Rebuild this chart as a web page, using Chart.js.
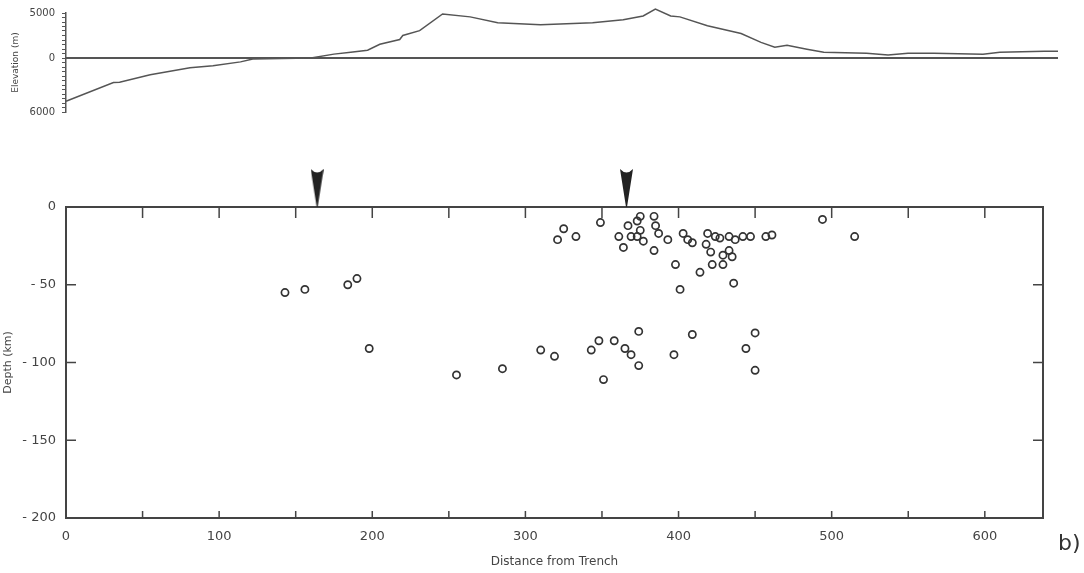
<!DOCTYPE html>
<html>
<head>
<meta charset="utf-8">
<script src="https://cdn.jsdelivr.net/npm/chart.js@4/dist/chart.umd.min.js"></script>
<style>
body { margin: 0; background: #fff; width: 1084px; height: 573px; overflow: hidden; position: relative; font-family: "DejaVu Sans", sans-serif; }
#top { position: absolute; left: 0; top: 0; }
#bot { position: absolute; left: 0; top: 125px; }
#lbl { position: absolute; left: 1058px; top: 530px; font-size: 22px; color: #333; }
</style>
</head>
<body>
<canvas id="top" width="1084" height="125"></canvas>
<canvas id="bot" width="1084" height="448"></canvas>
<div id="lbl">b)</div>
<script>
"use strict";
// elevation profile (km from trench, m)
const profileKm = [0, 31, 35, 55, 81, 96, 114, 122, 160, 175, 186, 197, 205, 218, 220, 231, 246, 264, 282, 310, 344, 364, 377, 385, 395, 401, 419, 441, 454, 463, 471, 484, 495, 523, 537, 550, 567, 599, 610, 639, 648];
const profileElev = [-4800, -2720, -2700, -1850, -1090, -870, -430, -100, 0, 430, 650, 870, 1520, 2060, 2500, 3040, 4890, 4570, 3910, 3700, 3910, 4240, 4670, 5430, 4670, 4570, 3590, 2720, 1740, 1200, 1410, 980, 650, 540, 330, 540, 540, 430, 650, 760, 760];
const seaLevelKm = [0, 648];
const seaLevelElev = [0, 0];
const elevLabels = { "5000": "5000", "0": "0", "-6000": "6000" };

// hypocenters (km from trench, depth km)
const quakeKm = [143, 156, 184, 190, 198,
    255, 285, 310, 319, 343, 348, 351, 358, 365, 369, 374, 374, 397, 409, 444, 450, 450,
    325, 321, 333, 349, 361, 364, 367, 369, 373, 373, 375, 375, 377, 384, 385, 384, 387, 393, 398, 401, 403,
    406, 409, 414, 419, 418, 421, 422, 424, 427, 429, 429, 433, 433, 435, 436, 437, 442, 447, 457, 461, 494, 515];
const quakeDepth = [-55, -53, -50, -46, -91,
    -108, -104, -92, -96, -92, -86, -111, -86, -91, -95, -80, -102, -95, -82, -91, -81, -105,
    -14, -21, -19, -10, -19, -26, -12, -19, -19, -9, -6, -15, -22, -6, -12, -28, -17, -21, -37, -53, -17,
    -21, -23, -42, -17, -24, -29, -37, -19, -20, -31, -37, -28, -19, -32, -49, -21, -19, -19, -19, -18, -8, -19];
const arrowKm = [164, 366];
const arrowDepth = [0, 0];

const ink = "#444";
const pts = (xs, ys) => xs.map((x, i) => ({ x: x, y: ys[i] }));

function arrowImage() {
    const c = document.createElement("canvas");
    c.width = 13; c.height = 76;
    const g = c.getContext("2d");
    g.fillStyle = "#222";
    g.beginPath();
    g.moveTo(0, 0);
    g.quadraticCurveTo(6.5, 7, 13, 0);
    g.lineTo(7, 38);
    g.lineTo(6, 38);
    g.closePath();
    g.fill();
    return c;
}

// frame + inward ticks for the depth section
const framePlugin = {
    id: "frame",
    beforeDatasetsDraw(chart) {
        const { ctx, chartArea: a, scales } = chart;
        ctx.save();
        ctx.strokeStyle = ink;
        ctx.lineWidth = 2;
        ctx.strokeRect(a.left, a.top, a.right - a.left, a.bottom - a.top);
        ctx.lineWidth = 1.5;
        ctx.beginPath();
        scales.x.ticks.forEach(t => {
            if (t.value <= 0 || t.value % 50) return;
            const px = scales.x.getPixelForValue(t.value);
            ctx.moveTo(px, a.top); ctx.lineTo(px, a.top + 11);
            ctx.moveTo(px, a.bottom); ctx.lineTo(px, a.bottom - 7);
        });
        scales.y.ticks.forEach(t => {
            if (t.value <= -200 || t.value >= 0) return;
            const py = scales.y.getPixelForValue(t.value);
            ctx.moveTo(a.left, py); ctx.lineTo(a.left + 10, py);
            ctx.moveTo(a.right, py); ctx.lineTo(a.right - 10, py);
        });
        ctx.stroke();
        ctx.restore();
    }
};

new Chart(document.getElementById("top"), {
    type: "line",
    data: {
        datasets: [{
            data: pts(profileKm, profileElev),
            borderColor: "#555",
            borderWidth: 1.5,
            pointRadius: 0,
            clip: false
        }, {
            data: pts(seaLevelKm, seaLevelElev),
            borderColor: "#555",
            borderWidth: 2,
            pointRadius: 0
        }]
    },
    options: {
        responsive: false,
        animation: false,
        layout: { padding: { top: 12, bottom: 13, left: 0, right: 26 } },
        plugins: { legend: { display: false }, tooltip: { enabled: false } },
        scales: {
            x: { type: "linear", min: 0, max: 648, display: false },
            y: {
                min: -6000, max: 5000,
                afterFit(s) { s.width = 66; },
                ticks: {
                    stepSize: 500, autoSkip: false, padding: 7,
                    color: ink, font: { size: 10, family: "DejaVu Sans" },
                    callback: v => elevLabels[String(v)] || ""
                },
                grid: { drawOnChartArea: false, tickLength: 4, color: "#555" },
                border: { color: "#555", width: 1.5 },
                title: {
                    display: true, text: "Elevation (m)", color: ink,
                    font: { size: 9, family: "DejaVu Sans" }, padding: { top: 10, bottom: 0 }
                }
            }
        }
    }
});

new Chart(document.getElementById("bot"), {
    type: "scatter",
    data: {
        datasets: [{
            data: pts(quakeKm, quakeDepth),
            pointStyle: "circle",
            pointRadius: 3.6,
            borderWidth: 1.7,
            borderColor: "#333",
            backgroundColor: "rgba(0,0,0,0)"
        }, {
            data: pts(arrowKm, arrowDepth),
            pointStyle: arrowImage(),
            clip: false
        }]
    },
    options: {
        responsive: false,
        animation: false,
        layout: { padding: { top: 82, bottom: 0, left: 0, right: 41 } },
        plugins: { legend: { display: false }, tooltip: { enabled: false } },
        scales: {
            x: {
                type: "linear", min: 0, max: 638,
                afterFit(s) { s.height = 55; },
                ticks: {
                    stepSize: 50, includeBounds: false, autoSkip: false, maxRotation: 0, padding: 11,
                    color: ink, font: { size: 13, family: "DejaVu Sans" },
                    callback: v => (v % 100 === 0 ? String(v) : "")
                },
                grid: { display: false, drawTicks: false, tickLength: 0 },
                border: { display: false },
                title: {
                    display: true, text: "Distance from Trench", color: ink,
                    font: { size: 12, family: "DejaVu Sans" }, padding: { top: 0, bottom: 4 }
                }
            },
            y: {
                min: -200, max: 0,
                afterFit(s) { s.width = 66; },
                ticks: {
                    stepSize: 50, padding: 10,
                    color: ink, font: { size: 13, family: "DejaVu Sans" },
                    callback: v => (v === 0 ? "0" : "- " + Math.abs(v))
                },
                grid: { display: false, drawTicks: false, tickLength: 0 },
                border: { display: false },
                title: {
                    display: true, text: "Depth (km)", color: ink,
                    font: { size: 11, family: "DejaVu Sans" }, padding: { top: 2, bottom: 0 }
                }
            }
        }
    },
    plugins: [framePlugin]
});
</script>
</body>
</html>
